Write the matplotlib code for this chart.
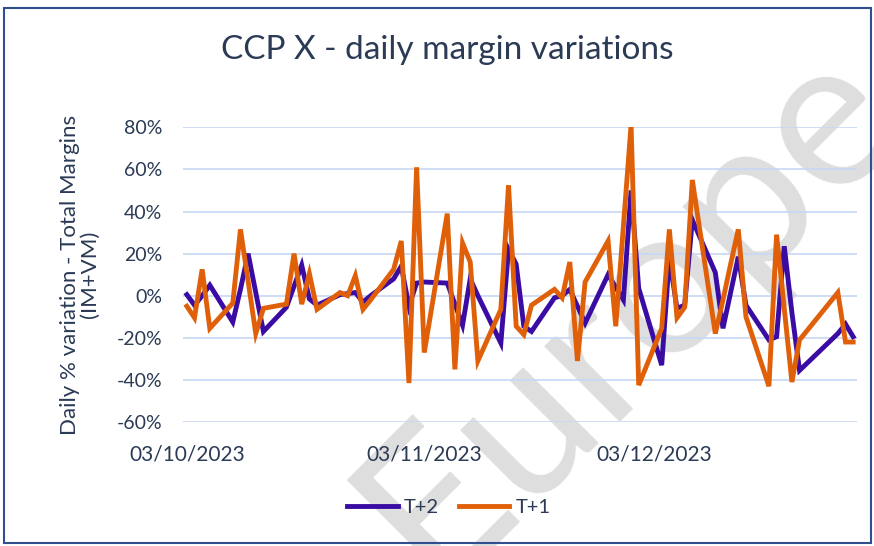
import pandas as pd
import matplotlib
matplotlib.use('Agg')
import matplotlib.pyplot as plt
import matplotlib.dates as mdates
from matplotlib.patches import Rectangle

plt.rcParams['font.family'] = ['Lato', 'DejaVu Sans']

# dates (business days, dd/mm)
dates = ['2023-10-03', '2023-10-04', '2023-10-05', '2023-10-06',
         '2023-10-09', '2023-10-10', '2023-10-11', '2023-10-12', '2023-10-13',
         '2023-10-16', '2023-10-17', '2023-10-18', '2023-10-19', '2023-10-20',
         '2023-10-23', '2023-10-24', '2023-10-25', '2023-10-26', '2023-10-27',
         '2023-10-30', '2023-10-31', '2023-11-01', '2023-11-02', '2023-11-03',
         '2023-11-06', '2023-11-07', '2023-11-08', '2023-11-09', '2023-11-10',
         '2023-11-13', '2023-11-14', '2023-11-15', '2023-11-16', '2023-11-17',
         '2023-11-20', '2023-11-21', '2023-11-22', '2023-11-23', '2023-11-24',
         '2023-11-27', '2023-11-28', '2023-11-29', '2023-11-30', '2023-12-01',
         '2023-12-04', '2023-12-05', '2023-12-06', '2023-12-07', '2023-12-08',
         '2023-12-11', '2023-12-12', '2023-12-13', '2023-12-14', '2023-12-15',
         '2023-12-18', '2023-12-19', '2023-12-20', '2023-12-21', '2023-12-22',
         '2023-12-27', '2023-12-28', '2023-12-29']

# daily % variation, T+2
t2 = [0.5, -4.5, 0, 5,
      -12.5, 3, 20, 1.5, -17,
      -5.5, 4.5, 14.5, -1.5, -4.5,
      0.5, 1, 1.5, -3, 0,
      8, 14, -5, 6, 6.5,
      6, -4, -14, 8, 0,
      -22.5, 22, 15, -14.5, -17,
      -1, 0, 3, -5, -13,
      10, 4, -2, 50, 3.5,
      -33, 18, -6, -4.5, 36,
      11, -15.5, 1.5, 18.5, -4.5,
      -21, -19.5, 23.5, -8, -35.5,
      -18, -13.5, -19.5]

# daily % variation, T+1
t1 = [-5, -10.5, 12.5, -15.5,
      -3.5, 31.5, 7, -18, -6,
      -4, 20, -4, 10.5, -6.5,
      1.5, 0, 9.5, -6.5, -2,
      12.5, 26, -41.5, 61, -27,
      39, -35, 25, 16, -31,
      -6.5, 52.5, -14.5, -18.5, -4.5,
      3, -1, 16, -31, 6.5,
      26, -14.5, 33, 81, -42.5,
      -15.5, 31.5, -10.5, -5.5, 55,
      -18, -2, 15, 31.5, -10,
      -43, 29, -6, -41, -21,
      1.5, -22, -22]

tick_dates = ['2023-10-03', '2023-11-03', '2023-12-03']
y_ticks = [-60, -40, -20, 0, 20, 40, 60, 80]

x = pd.to_datetime(dates)
text_col = '#2b3a55'

fig = plt.figure(figsize=(8.74, 5.46), dpi=100)
ax = fig.add_axes([183 / 874, 1 - 422 / 546, 674 / 874, 294.7 / 546])
ax.set_facecolor('none')

# watermark behind the plot
fig.text(628 / 874, 1 - 310 / 546, 'Europe', rotation=45, fontsize=152,
         color='#dedede', ha='center', va='center', zorder=-1)

ax.plot(x, [v / 100 for v in t2], color='#3a0ca3', lw=3.5, label='T+2',
        solid_joinstyle='miter', zorder=3)
ax.plot(x, [v / 100 for v in t1], color='#e0600a', lw=3.5, label='T+1',
        solid_joinstyle='miter', zorder=4)

ax.set_ylim(-0.6, 0.8)
ax.set_yticks([v / 100 for v in y_ticks])
ax.set_yticklabels([f'{v}%' for v in y_ticks])
ax.set_xlim(x[0] - pd.Timedelta(hours=12), x[-1] + pd.Timedelta(hours=12))
ax.set_xticks(pd.to_datetime(tick_dates))
ax.xaxis.set_major_formatter(mdates.DateFormatter('%d/%m/%Y'))

ax.yaxis.grid(True, color='#c8d7f3', lw=1.2)
ax.xaxis.grid(False)
for s in ax.spines.values():
    s.set_visible(False)
ax.tick_params(length=0, labelsize=14, labelcolor=text_col)
ax.tick_params(axis='y', pad=15)
ax.tick_params(axis='x', labelsize=15, pad=16)

ax.set_ylabel('Daily % variation - Total Margins\n(IM+VM)', fontsize=16,
              color=text_col, linespacing=1.0, labelpad=12)

fig.suptitle('CCP X - daily margin variations', x=447 / 874, y=1 - 50 / 546,
             va='center', fontsize=24, color=text_col)

fig.legend(loc='center', bbox_to_anchor=(449 / 874, 1 - 507 / 546), ncol=2,
           frameon=False, fontsize=14.5, handlelength=2.5, columnspacing=1.0,
           handletextpad=0.3, labelcolor=text_col)

fig.patches.append(Rectangle((4 / 874, 1 - 543 / 546), 867 / 874, 535 / 546,
                             transform=fig.transFigure, fill=False,
                             edgecolor='#2f4f8f', lw=1.5))

fig.savefig('out.png', dpi=100)
